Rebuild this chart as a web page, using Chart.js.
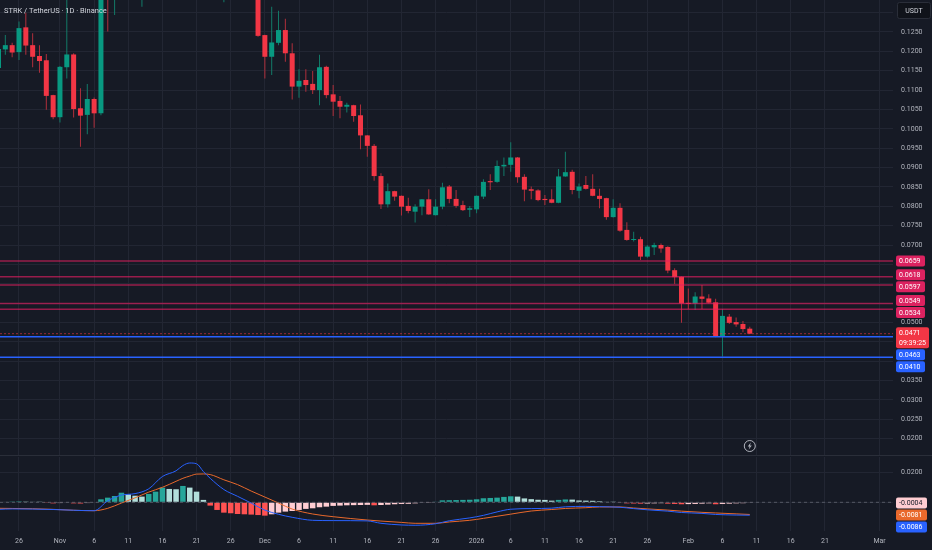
<!DOCTYPE html>
<html>
<head>
<meta charset="utf-8">
<title>STRK / TetherUS</title>
<script src="https://cdn.jsdelivr.net/npm/chart.js@4.4.1/dist/chart.umd.min.js"></script>
<style>
  html, body { margin: 0; padding: 0; background: #161a25; overflow: hidden; }
  #wrap { position: relative; width: 932px; height: 550px; }
  canvas { position: absolute; left: 0; }
  #priceChart { top: 0; }
  #macdChart { top: 455px; }
</style>
</head>
<body>
<div id="wrap">
  <canvas id="priceChart" width="932" height="455"></canvas>
  <canvas id="macdChart" width="932" height="95"></canvas>
</div>
<script>
// daily candles, first one on firstDate
const firstDate = '2025-10-23';
const opens = [
  0.1157, 0.1205, 0.1216, 0.1198, 0.1262, 0.1216, 0.1188, 0.1177, 0.1087,
  0.1030, 0.1159, 0.1192, 0.1053, 0.1036, 0.1077, 0.1040, 0.1500, 0.1420, 0.1550,
  0.1720, 0.1650, 0.1580, 0.1700, 0.1820, 0.1930, 0.2200, 0.2120, 0.2080, 0.2380,
  0.2280, 0.2120, 0.1920, 0.1760, 0.1620, 0.1660, 0.1550, 0.1500, 0.1440, 0.1400,
  0.1242, 0.1186, 0.1222, 0.1255, 0.1195, 0.1109, 0.1126, 0.1116, 0.1100, 0.1160,
  0.1089, 0.1072, 0.1057, 0.1061, 0.1035, 0.0983, 0.0956, 0.0878, 0.0805, 0.0839,
  0.0827, 0.0801, 0.0786, 0.0799, 0.0818, 0.0777, 0.0799, 0.0851, 0.0819, 0.0803, 0.0791,
  0.0792, 0.0825, 0.0865, 0.0863, 0.0903, 0.0907, 0.0926, 0.0876, 0.0844, 0.0841,
  0.0819, 0.0818, 0.0809, 0.0877, 0.0889, 0.0840, 0.0855, 0.0845, 0.0827, 0.0821,
  0.0772, 0.0796, 0.0739, 0.0713, 0.0715, 0.0670, 0.0694, 0.0700, 0.0695, 0.0635, 0.0618,
  0.0549, 0.0549, 0.0567, 0.0562, 0.0552, 0.0463, 0.0515, 0.0501, 0.0496, 0.0484
];
const highs = [
  0.1216, 0.1242, 0.1222, 0.1277, 0.1300, 0.1247, 0.1216, 0.1193, 0.1088,
  0.1162, 0.1380, 0.1195, 0.1105, 0.1116, 0.1081, 0.1580, 0.1620, 0.1600, 0.1800,
  0.1780, 0.1700, 0.1760, 0.1880, 0.1980, 0.2300, 0.2280, 0.2200, 0.2450, 0.2450,
  0.2320, 0.2150, 0.1960, 0.1800, 0.1700, 0.1700, 0.1600, 0.1540, 0.1480, 0.1420,
  0.1243, 0.1315, 0.1305, 0.1284, 0.1221, 0.1154, 0.1154, 0.1149, 0.1191, 0.1163,
  0.1113, 0.1085, 0.1067, 0.1062, 0.1063, 0.0984, 0.0961, 0.0885, 0.0859, 0.0840,
  0.0828, 0.0822, 0.0805, 0.0819, 0.0844, 0.0818, 0.0861, 0.0855, 0.0842, 0.0814, 0.0801,
  0.0828, 0.0870, 0.0883, 0.0918, 0.0926, 0.0965, 0.0927, 0.0883, 0.0851, 0.0844,
  0.0829, 0.0844, 0.0896, 0.0941, 0.0894, 0.0859, 0.0878, 0.0883, 0.0845, 0.0822,
  0.0818, 0.0808, 0.0759, 0.0734, 0.0721, 0.0700, 0.0706, 0.0704, 0.0697, 0.0640, 0.0619,
  0.0588, 0.0578, 0.0597, 0.0573, 0.0561, 0.0535, 0.0522, 0.0513, 0.0504, 0.0489
];
const lows = [
  0.1147, 0.1191, 0.1185, 0.1178, 0.1191, 0.1159, 0.1145, 0.1049, 0.1025,
  0.1016, 0.1130, 0.1029, 0.0954, 0.0986, 0.1003, 0.1035, 0.1251, 0.1294, 0.1500,
  0.1580, 0.1500, 0.1315, 0.1650, 0.1780, 0.1900, 0.2050, 0.2000, 0.2050, 0.2200,
  0.2050, 0.1880, 0.1720, 0.1580, 0.1327, 0.1500, 0.1450, 0.1400, 0.1380, 0.1238,
  0.1130, 0.1139, 0.1216, 0.1173, 0.1076, 0.1080, 0.1096, 0.1090, 0.1061, 0.1079,
  0.1033, 0.1027, 0.1042, 0.1018, 0.0947, 0.0928, 0.0866, 0.0793, 0.0797, 0.0814,
  0.0776, 0.0782, 0.0758, 0.0777, 0.0778, 0.0776, 0.0792, 0.0808, 0.0796, 0.0788, 0.0772,
  0.0782, 0.0819, 0.0842, 0.0861, 0.0878, 0.0889, 0.0861, 0.0813, 0.0818, 0.0813,
  0.0803, 0.0808, 0.0808, 0.0876, 0.0831, 0.0821, 0.0843, 0.0826, 0.0795, 0.0765,
  0.0771, 0.0734, 0.0711, 0.0709, 0.0661, 0.0667, 0.0674, 0.0680, 0.0627, 0.0599, 0.0499,
  0.0535, 0.0532, 0.0535, 0.0549, 0.0462, 0.0412, 0.0496, 0.0489, 0.0475, 0.0470
];
const closes = [
  0.1206, 0.1216, 0.1197, 0.1260, 0.1215, 0.1186, 0.1175, 0.1085, 0.1030,
  0.1160, 0.1192, 0.1051, 0.1034, 0.1077, 0.1040, 0.1500, 0.1420, 0.1550, 0.1720,
  0.1650, 0.1580, 0.1700, 0.1820, 0.1930, 0.2200, 0.2120, 0.2080, 0.2380, 0.2280,
  0.2120, 0.1920, 0.1760, 0.1620, 0.1660, 0.1550, 0.1500, 0.1440, 0.1400, 0.1240,
  0.1186, 0.1223, 0.1255, 0.1195, 0.1109, 0.1124, 0.1113, 0.1100, 0.1159, 0.1087,
  0.1070, 0.1057, 0.1062, 0.1033, 0.0983, 0.0956, 0.0878, 0.0805, 0.0839, 0.0825,
  0.0799, 0.0788, 0.0799, 0.0818, 0.0779, 0.0799, 0.0849, 0.0819, 0.0801, 0.0790, 0.0795,
  0.0827, 0.0863, 0.0862, 0.0904, 0.0907, 0.0926, 0.0875, 0.0843, 0.0840, 0.0816,
  0.0816, 0.0809, 0.0877, 0.0888, 0.0842, 0.0851, 0.0845, 0.0827, 0.0819, 0.0772,
  0.0796, 0.0737, 0.0713, 0.0715, 0.0670, 0.0696, 0.0700, 0.0691, 0.0634, 0.0617, 0.0549,
  0.0548, 0.0567, 0.0561, 0.0551, 0.0463, 0.0517, 0.0499, 0.0495, 0.0483, 0.0471
];

// MACD histogram, one value per candle
const histValues = [
  0.0004, 0.0003, 0.0005, 0.0006, 0.0005, 0.0004, 0.0002, -0.0002, -0.0007,
  -0.0005, -0.0003, -0.0007, -0.0008, -0.0005, -0.0003, 0.0020, 0.0031, 0.0042, 0.0064,
  0.0053, 0.0044, 0.0038, 0.0056, 0.0071, 0.0098, 0.0089, 0.0087, 0.0109, 0.0098,
  0.0071, 0.0016, -0.0022, -0.0051, -0.0069, -0.0073, -0.0078, -0.0080, -0.0082, -0.0085,
  -0.0089, -0.0080, -0.0069, -0.0062, -0.0058, -0.0051, -0.0044, -0.0040, -0.0033, -0.0029,
  -0.0024, -0.0022, -0.0020, -0.0019, -0.0018, -0.0017, -0.0020, -0.0018, -0.0016, -0.0013,
  -0.0011, -0.0010, -0.0007, -0.0004, -0.0002, 0.0004, 0.0013, 0.0014, 0.0015, 0.0016, 0.0017,
  0.0020, 0.0027, 0.0029, 0.0031, 0.0036, 0.0040, 0.0038, 0.0026, 0.0021, 0.0017,
  0.0016, 0.0011, 0.0016, 0.0019, 0.0018, 0.0012, 0.0011, 0.0010, 0.0007, 0.0004,
  0.0002, -0.0004, -0.0007, -0.0008, -0.0009, -0.0008, -0.0007, -0.0006, -0.0009, -0.0011, -0.0013,
  -0.0012, -0.0011, -0.0009, -0.0007, -0.0013, -0.0011, -0.0009, -0.0007, -0.0006, -0.0004
];

// MACD and signal lines, read at these dates
const lineDates = [
  '2025-10-23', '2025-10-25', '2025-10-28', '2025-10-31', '2025-11-03', '2025-11-06', '2025-11-08',
  '2025-11-10', '2025-11-12', '2025-11-14', '2025-11-16', '2025-11-18', '2025-11-19', '2025-11-20',
  '2025-11-21', '2025-11-22', '2025-11-23', '2025-11-25', '2025-11-27', '2025-11-29', '2025-12-01',
  '2025-12-03', '2025-12-05', '2025-12-08', '2025-12-11', '2025-12-16', '2025-12-18', '2025-12-21',
  '2025-12-23', '2025-12-26', '2025-12-28', '2025-12-31', '2026-01-02', '2026-01-04', '2026-01-06',
  '2026-01-09', '2026-01-12', '2026-01-14', '2026-01-17', '2026-01-19', '2026-01-22', '2026-01-24',
  '2026-01-26', '2026-01-29', '2026-01-31', '2026-02-03', '2026-02-05', '2026-02-08', '2026-02-10'
];
const macdValues = [
  -0.0047, -0.0044, -0.0045, -0.0048, -0.0053, -0.0056, 0.0010,
  0.0048, 0.0058, 0.0090, 0.0172, 0.0210, 0.0245, 0.0262,
  0.0257, 0.0205, 0.0160, 0.0085, 0.0040, -0.0005, -0.0052,
  -0.0080, -0.0100, -0.0120, -0.0122, -0.0124, -0.0140, -0.0151,
  -0.0153, -0.0143, -0.0123, -0.0104, -0.0087, -0.0064, -0.0046,
  -0.0042, -0.0039, -0.0030, -0.0027, -0.0029, -0.0033, -0.0042,
  -0.0050, -0.0059, -0.0068, -0.0074, -0.0081, -0.0085, -0.0086
];
const signalValues = [
  -0.0040, -0.0041, -0.0043, -0.0047, -0.0053, -0.0056, -0.0040,
  -0.0005, 0.0030, 0.0068, 0.0100, 0.0140, 0.0160, 0.0175,
  0.0188, 0.0189, 0.0185, 0.0150, 0.0118, 0.0075, 0.0035,
  -0.0005, -0.0045, -0.0078, -0.0096, -0.0118, -0.0125, -0.0134,
  -0.0140, -0.0140, -0.0131, -0.0120, -0.0107, -0.0093, -0.0079,
  -0.0058, -0.0048, -0.0041, -0.0036, -0.0031, -0.0031, -0.0038,
  -0.0044, -0.0052, -0.0059, -0.0067, -0.0071, -0.0077, -0.0081
];

const resistanceLevels = [0.0659, 0.0618, 0.0597, 0.0549, 0.0534];
const supportLevels = [0.0463, 0.0410];

const xTickDates = [
  '2025-10-26', '2025-11-01', '2025-11-06', '2025-11-11', '2025-11-16', '2025-11-21', '2025-11-26',
  '2025-12-01', '2025-12-06', '2025-12-11', '2025-12-16', '2025-12-21', '2025-12-26',
  '2026-01-01', '2026-01-06', '2026-01-11', '2026-01-16', '2026-01-21', '2026-01-26',
  '2026-02-01', '2026-02-06', '2026-02-11', '2026-02-16', '2026-02-21', '2026-03-01'
];
const xTickLabels = [
  '26', 'Nov', '6', '11', '16', '21', '26', 'Dec', '6', '11', '16', '21', '26',
  '2026', '6', '11', '16', '21', '26', 'Feb', '6', '11', '16', '21', 'Mar'
];
const priceStep = 0.005;
const macdStep = 0.02;
const symbolTitle = 'STRK / TetherUS · 1D · Binance';
const quoteCurrency = 'USDT';
const barCountdown = '09:39:25';

// colours
const GRID = '#222633';
const TEXT = '#b2b5be';
const UP = '#089981', DOWN = '#f23645';
const UP_WICK = '#137a68', DOWN_WICK = '#b02f3c';
const LEVEL_LINE = 'rgba(233, 30, 99, 0.62)', LEVEL_TAG = '#dc2260';
const BLUE = '#2962ff';
const SIGNAL = '#e9692c';
const HIST_UP = '#26a69a', HIST_UP_FADE = '#b2dfdb', HIST_DN_FADE = '#ffcdd2', HIST_DN = '#ff5252';

Chart.defaults.font.family = 'Roboto, "Noto Sans", sans-serif';
Chart.defaults.font.size = 7;

const dayIndex = s => Math.round((Date.parse(s + 'T00:00:00Z') - Date.parse(firstDate + 'T00:00:00Z')) / 86400000);
const tickX = xTickDates.map(dayIndex);
const lineX = lineDates.map(dayIndex);
const last = opens.length - 1;
const view = { xMin: 0.22, xMax: 130.97, pMin: 0.01578, pMax: 0.13326, mMin: -0.01913, mMax: 0.0302 };

const candleColors = opens.map((o, i) => closes[i] >= o ? UP : DOWN);
const wickColors = opens.map((o, i) => closes[i] >= o ? UP_WICK : DOWN_WICK);
const histColors = histValues.map((h, i) => {
  const prev = i > 0 ? histValues[i - 1] : h;
  if (h >= 0) return h > prev ? HIST_UP : HIST_UP_FADE;
  return h > prev ? HIST_DN_FADE : HIST_DN;
});

function xAxis(showLabels) {
  return {
    type: 'linear', min: view.xMin, max: view.xMax, offset: false,
    afterBuildTicks: s => { s.ticks = tickX.map(v => ({ value: v })); },
    afterFit: s => { s.paddingLeft = 0; s.paddingRight = 0; s.height = showLabels ? 19 : 0; },
    grid: { color: GRID, drawTicks: false, offset: false },
    border: { display: false },
    ticks: {
      display: showLabels, autoSkip: false, maxRotation: 0, padding: 6, color: TEXT,
      callback: (v, i) => xTickLabels[i]
    }
  };
}

function yAxis(min, max, step, tagValues) {
  return {
    position: 'right', min: min, max: max, beginAtZero: false,
    afterFit: s => { s.width = 39; s.paddingTop = 0; s.paddingBottom = 0; },
    grid: { color: GRID, drawTicks: false },
    border: { display: false },
    ticks: {
      stepSize: step, includeBounds: false, padding: 8, color: TEXT,
      callback: v => (v >= 0.13 || tagValues.some(t => Math.abs(t - v) < step / 2)) ? '' : v.toFixed(4)
    }
  };
}

function hline(v, color, width, dash) {
  return {
    type: 'line', data: [{ x: view.xMin, y: v }, { x: view.xMax, y: v }],
    borderColor: color, borderWidth: width, borderDash: dash || [], pointRadius: 0, order: 0
  };
}

// stack price tags that would overlap, heavier tags move less
function spreadTags(items) {
  items.sort((p, q) => p.y - q.y);
  const groups = items.map(it => ({ items: [it] }));
  const settle = g => {
    let off = 0, sum = 0, wsum = 0;
    g.items.forEach(it => { sum += (it.y - it.a - off) * it.w; wsum += it.w; off += it.h; });
    g.top = sum / wsum; g.h = off;
  };
  groups.forEach(settle);
  for (let i = 0; i < groups.length - 1;) {
    if (groups[i].top + groups[i].h > groups[i + 1].top) {
      groups[i].items.push(...groups[i + 1].items);
      groups.splice(i + 1, 1);
      settle(groups[i]);
      i = Math.max(0, i - 1);
    } else i++;
  }
  groups.forEach(g => { let t = g.top; g.items.forEach(it => { it.top = t; t += it.h; }); });
}

function drawTags(ctx, left, items) {
  ctx.font = '7px Roboto, sans-serif';
  ctx.textBaseline = 'middle';
  ctx.textAlign = 'left';
  items.forEach(it => {
    ctx.fillStyle = it.bg;
    ctx.beginPath();
    ctx.roundRect(left, it.top + 0.5, it.wd, it.h - 1, 2);
    ctx.fill();
    ctx.fillStyle = it.fg;
    ctx.fillText(it.text, left + 3, it.top + 6.5);
    if (it.sub) ctx.fillText(it.sub, left + 3, it.top + 16.5);
  });
}

const pricePane = {
  id: 'pricePane',
  afterDraw(chart) {
    const { ctx, chartArea, scales } = chart;
    ctx.save();
    ctx.font = '7.5px Roboto, sans-serif';
    ctx.fillStyle = '#d1d4dc';
    ctx.textBaseline = 'middle';
    ctx.fillText(symbolTitle, 4, 11);

    // currency box
    ctx.fillStyle = '#10131a';
    ctx.strokeStyle = '#2a2e39';
    ctx.beginPath();
    ctx.roundRect(chartArea.right + 4.5, 2.5, 33, 16, 2);
    ctx.fill(); ctx.stroke();
    ctx.fillStyle = '#d1d4dc';
    ctx.font = '7px Roboto, sans-serif';
    ctx.textAlign = 'center';
    ctx.fillText(quoteCurrency, chartArea.right + 21, 11);

    const tags = [
      ...resistanceLevels.map(v => ({ v, text: v.toFixed(4), bg: LEVEL_TAG, fg: '#fff', h: 12, a: 6, w: 1, wd: 29 })),
      ...supportLevels.map(v => ({ v, text: v.toFixed(4), bg: BLUE, fg: '#fff', h: 12, a: 6, w: 1, wd: 29 })),
      { v: closes[last], text: closes[last].toFixed(4), sub: barCountdown, bg: DOWN, fg: '#fff', h: 22, a: 7, w: 1000, wd: 33 }
    ];
    tags.forEach(t => { t.y = scales.y.getPixelForValue(t.v); });
    spreadTags(tags);
    drawTags(ctx, chartArea.right + 3, tags);

    // events marker under the last bar
    const cx = scales.x.getPixelForValue(last), cy = chartArea.bottom - 9;
    ctx.strokeStyle = TEXT;
    ctx.lineWidth = 1;
    ctx.beginPath();
    ctx.arc(cx, cy, 5.5, 0, Math.PI * 2);
    ctx.stroke();
    ctx.fillStyle = TEXT;
    ctx.beginPath();
    ctx.moveTo(cx + 1, cy - 3.5); ctx.lineTo(cx - 2, cy + 0.5); ctx.lineTo(cx - 0.2, cy + 0.5);
    ctx.lineTo(cx - 1, cy + 3.5); ctx.lineTo(cx + 2, cy - 0.5); ctx.lineTo(cx + 0.2, cy - 0.5);
    ctx.closePath(); ctx.fill();
    ctx.restore();
  }
};

const macdPane = {
  id: 'macdPane',
  afterDraw(chart) {
    const { ctx, chartArea, scales } = chart;
    ctx.save();
    ctx.strokeStyle = '#2a2e39';
    ctx.lineWidth = 1;
    ctx.beginPath(); ctx.moveTo(0, 0.5); ctx.lineTo(chart.width, 0.5); ctx.stroke();
    const tags = [
      { v: histValues[last], bg: HIST_DN_FADE, fg: '#131722', w: 1000 },
      { v: signalValues[signalValues.length - 1], bg: SIGNAL, fg: '#fff', w: 1 },
      { v: macdValues[macdValues.length - 1], bg: BLUE, fg: '#fff', w: 1 }
    ];
    tags.forEach(t => { t.y = scales.y.getPixelForValue(t.v); t.text = t.v.toFixed(4); t.h = 12; t.a = 6; t.wd = 31; });
    spreadTags(tags);
    drawTags(ctx, chartArea.right + 3, tags);
    ctx.restore();
  }
};

new Chart(document.getElementById('priceChart'), {
  type: 'bar',
  data: {
    datasets: [
      ...resistanceLevels.map(v => hline(v, LEVEL_LINE, 1.5)),
      ...supportLevels.map(v => hline(v, BLUE, 1.5)),
      hline(closes[last], 'rgba(242, 54, 69, 0.6)', 1, [2, 2]),
      {
        data: opens.map((o, i) => ({ x: i, y: [o, closes[i]] })),
        backgroundColor: candleColors, barThickness: 5, minBarLength: 1,
        grouped: false, inflateAmount: 0, order: 1
      },
      {
        data: opens.map((o, i) => ({ x: i, y: [lows[i], highs[i]] })),
        backgroundColor: wickColors, barThickness: 1,
        grouped: false, inflateAmount: 0, order: 2
      }
    ]
  },
  options: {
    responsive: false,
    animation: false,
    events: [],
    layout: { padding: 0 },
    scales: {
      x: xAxis(false),
      y: yAxis(view.pMin, view.pMax, priceStep, [...resistanceLevels, ...supportLevels, closes[last]])
    },
    plugins: { legend: { display: false }, tooltip: { enabled: false } }
  },
  plugins: [pricePane]
});

new Chart(document.getElementById('macdChart'), {
  type: 'bar',
  data: {
    datasets: [
      hline(0, 'rgba(120, 123, 134, 0.6)', 1, [3, 3]),
      {
        data: histValues.map((h, i) => ({ x: i, y: h })),
        backgroundColor: histColors, barThickness: 5.5,
        grouped: false, inflateAmount: 0, order: 2
      },
      {
        type: 'line', data: lineX.map((x, i) => ({ x, y: signalValues[i] })),
        borderColor: SIGNAL, borderWidth: 1, pointRadius: 0, cubicInterpolationMode: 'monotone', order: 1
      },
      {
        type: 'line', data: lineX.map((x, i) => ({ x, y: macdValues[i] })),
        borderColor: BLUE, borderWidth: 1, pointRadius: 0, cubicInterpolationMode: 'monotone', order: 0
      }
    ]
  },
  options: {
    responsive: false,
    animation: false,
    events: [],
    layout: { padding: { top: 2 } },
    scales: {
      x: xAxis(true),
      y: yAxis(view.mMin, view.mMax, macdStep,
        [histValues[last], signalValues[signalValues.length - 1], macdValues[macdValues.length - 1]])
    },
    plugins: { legend: { display: false }, tooltip: { enabled: false } }
  },
  plugins: [macdPane]
});
</script>
</body>
</html>
